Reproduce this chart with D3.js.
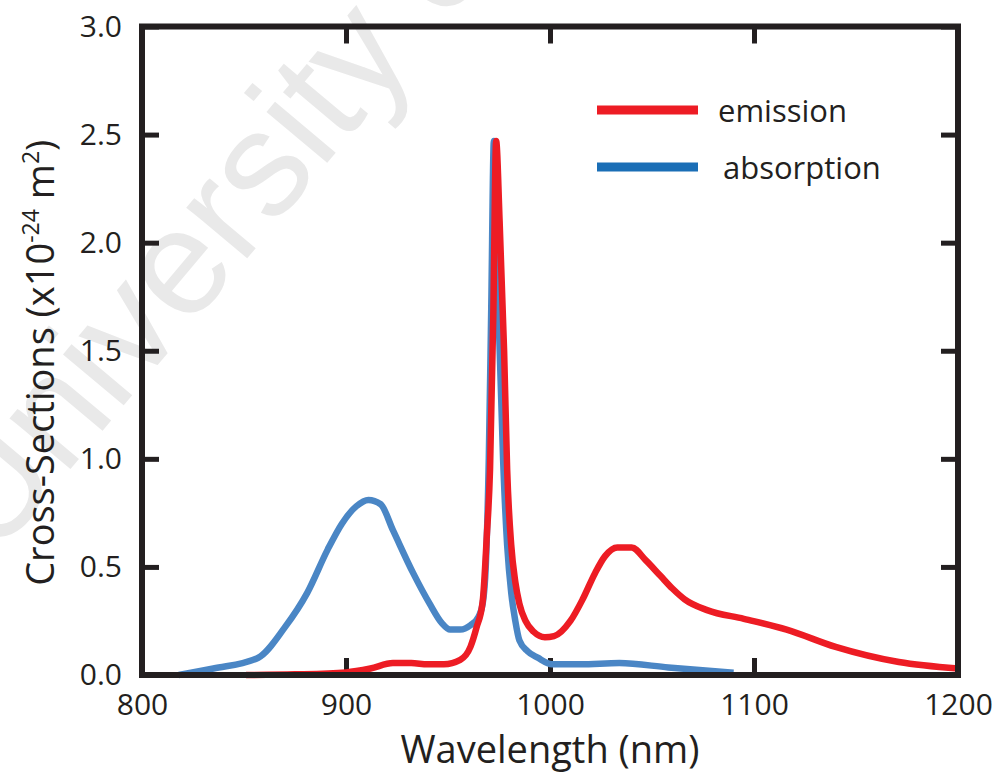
<!DOCTYPE html>
<html>
<head>
<meta charset="utf-8">
<script src="https://cdn.jsdelivr.net/npm/d3@7"></script>
<style>
  body { margin: 0; background: #fff; }
  text { font-family: "Open Sans", sans-serif; fill: #231f20; }
</style>
</head>
<body>
<div id="chart"></div>
<script>
// Absorption cross-section (blue)
const absWl  = [818, 835, 857, 870, 881, 891, 898, 905, 911, 917, 923, 933, 941, 947, 951, 956, 961, 965, 967, 968.5, 970, 971.2, 972.5, 974, 975, 977, 979, 981, 983, 985, 989, 994, 1001, 1015, 1034, 1058, 1090];
const absVal = [0.00, 0.03, 0.08, 0.22, 0.38, 0.58, 0.70, 0.78, 0.81, 0.79, 0.67, 0.47, 0.33, 0.24, 0.21, 0.21, 0.23, 0.27, 0.33, 0.50, 1.00, 1.70, 2.47, 2.00, 1.60, 1.00, 0.60, 0.38, 0.25, 0.16, 0.11, 0.08, 0.05, 0.05, 0.055, 0.035, 0.01];

// Emission cross-section (red)
const emWl  = [851, 875, 900, 912, 923, 932, 940, 948, 956, 961, 964, 967, 969, 970.6, 972.2, 973.6, 975.3, 977.5, 979, 981, 983, 985, 988, 992, 997.5, 1002, 1010, 1016, 1022, 1027, 1033, 1040, 1047, 1054, 1060, 1066, 1077, 1095, 1116, 1140, 1171, 1200];
const emVal = [0.00, 0.003, 0.012, 0.03, 0.055, 0.055, 0.05, 0.05, 0.07, 0.13, 0.22, 0.34, 0.64, 0.95, 1.66, 2.47, 2.10, 1.50, 0.95, 0.60, 0.43, 0.33, 0.25, 0.20, 0.175, 0.18, 0.25, 0.35, 0.47, 0.55, 0.59, 0.59, 0.53, 0.46, 0.40, 0.35, 0.30, 0.26, 0.21, 0.13, 0.06, 0.03];

const xTicks = [800, 900, 1000, 1100, 1200];
const yTicks = [0, 0.5, 1.0, 1.5, 2.0, 2.5, 3.0];
const seriesNames = ["emission", "absorption"];

const width = 1006, height = 776;
const margin = { top: 26.5, right: 48, bottom: 101, left: 142 };

const svg = d3.select("#chart").append("svg")
    .attr("width", width)
    .attr("height", height);

const x = d3.scaleLinear().domain([800, 1200]).range([margin.left, width - margin.right]);
const y = d3.scaleLinear().domain([0, 3]).range([height - margin.bottom, margin.top]);

// faint watermark behind everything (cut by the top edge, as in the original)
svg.append("text")
    .attr("transform", "translate(-6,560) rotate(-50)")
    .style("font-family", "Liberation Sans, Arial, sans-serif")
    .style("font-size", "150px")
    .style("fill", "#e9e9e9")
    .text("University of");

const axisColor = "#231f20";
const tickLen = 17;

// axes with inward ticks
const gx = svg.append("g")
    .attr("transform", `translate(0,${y(0)})`)
    .call(d3.axisBottom(x).tickValues(xTicks).tickSize(-tickLen).tickPadding(19).tickFormat(d3.format("d")));
const gxTop = svg.append("g")
    .attr("transform", `translate(0,${y(3)})`)
    .call(d3.axisTop(x).tickValues(xTicks).tickSize(-tickLen).tickFormat(""));
const gy = svg.append("g")
    .attr("transform", `translate(${x(800)},0)`)
    .call(d3.axisLeft(y).tickValues(yTicks).tickSize(-tickLen).tickPadding(20).tickFormat(d3.format(".1f")));
const gyRight = svg.append("g")
    .attr("transform", `translate(${x(1200)},0)`)
    .call(d3.axisRight(y).tickValues(yTicks).tickSize(-tickLen).tickFormat(""));

[gx, gxTop, gy, gyRight].forEach(g => {
    g.select(".domain").remove();
    g.selectAll(".tick line").attr("stroke", axisColor).attr("stroke-width", 5);
    g.selectAll(".tick text")
        .style("font-size", "30px")
        .style("font-family", "Open Sans, sans-serif")
        .attr("fill", "#231f20");
});

// curves
const line = d3.line()
    .x(d => x(d[0]))
    .y(d => y(d[1]))
    .curve(d3.curveMonotoneX);

const absData = absWl.map((w, i) => [w, absVal[i]]);
const emData = emWl.map((w, i) => [w, emVal[i]]);

svg.append("path")
    .datum(absData)
    .attr("fill", "none")
    .attr("stroke", "#4a86c5")
    .attr("stroke-width", 6.5)
    .attr("stroke-linejoin", "round")
    .attr("d", line);

svg.append("path")
    .datum(emData)
    .attr("fill", "none")
    .attr("stroke", "#ed1c24")
    .attr("stroke-width", 6.5)
    .attr("stroke-linejoin", "round")
    .attr("d", line);

// frame on top
svg.append("rect")
    .attr("x", x(800))
    .attr("y", y(3))
    .attr("width", x(1200) - x(800))
    .attr("height", y(0) - y(3))
    .attr("fill", "none")
    .attr("stroke", axisColor)
    .attr("stroke-width", 6);

// axis titles
svg.append("text")
    .attr("x", (x(800) + x(1200)) / 2)
    .attr("y", 763)
    .attr("text-anchor", "middle")
    .style("font-size", "38px")
    .text("Wavelength (nm)");

const yTitle = svg.append("text")
    .attr("transform", `translate(54,${(y(0) + y(3)) / 2 + 12}) rotate(-90)`)
    .attr("text-anchor", "middle")
    .style("font-size", "38px");
yTitle.append("tspan").text("Cross-Sections (x10");
yTitle.append("tspan").attr("dy", -15).style("font-size", "23px").text("-24");
yTitle.append("tspan").attr("dy", 15).text(" m");
yTitle.append("tspan").attr("dy", -15).style("font-size", "23px").text("2");
yTitle.append("tspan").attr("dy", 15).text(")");

// legend
const legendColors = ["#ed1c24", "#1a6eb6"];
const legend = svg.append("g");
seriesNames.forEach((name, i) => {
    const ly = 110 + i * 57;
    legend.append("line")
        .attr("x1", 597).attr("x2", 698)
        .attr("y1", ly).attr("y2", ly)
        .attr("stroke", legendColors[i])
        .attr("stroke-width", 9);
    legend.append("text")
        .attr("x", i === 0 ? 718 : 723)
        .attr("y", ly + 12)
        .style("font-size", "31px")
        .text(name);
});
</script>
</body>
</html>
